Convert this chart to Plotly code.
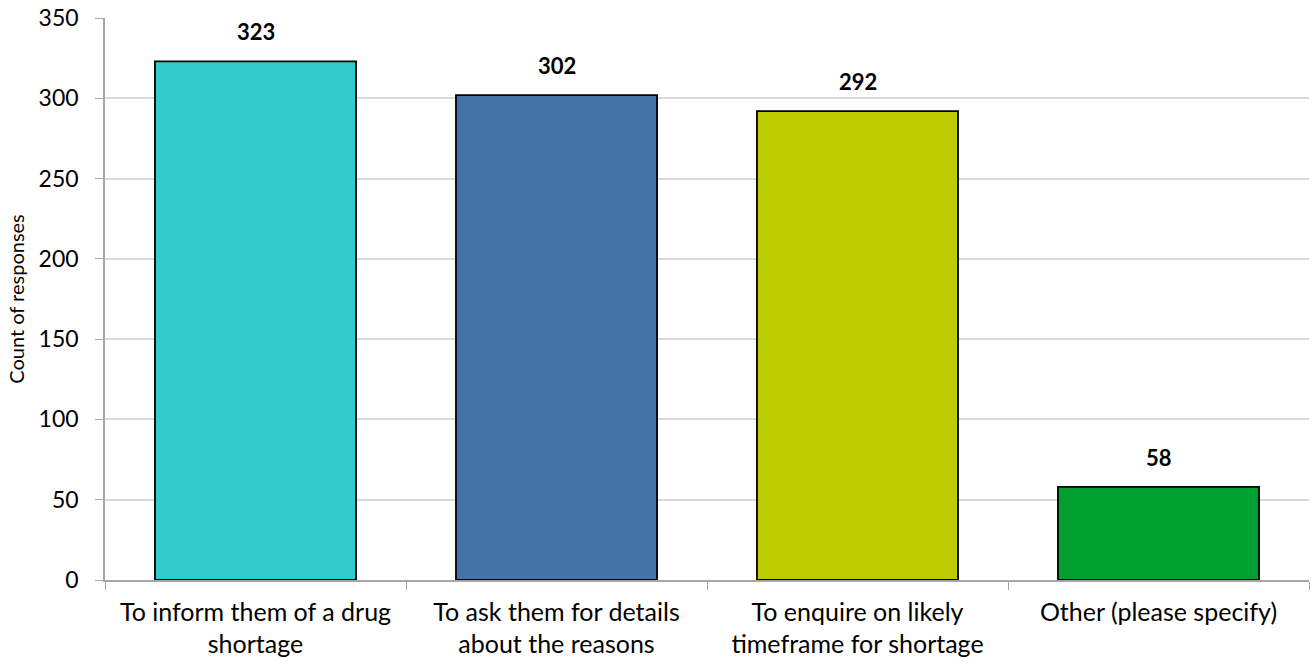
import plotly.graph_objects as go

categories = ["To inform them of a drug<br>shortage",
              "To ask them for details<br>about the reasons",
              "To enquire on likely<br>timeframe for shortage",
              "Other (please specify)"]
values = [323, 302, 292, 58]
colors = ["#33CCCC", "#4673A7", "#BDCC00", "#00A030"]

FONT = "Lato, Noto Sans, sans-serif"

fig = go.Figure()
fig.add_trace(go.Bar(
    x=categories, y=values,
    marker=dict(color=colors, line=dict(color="#000000", width=1.8)),
    width=0.668,
    hoverinfo="x+y",
))

for c, v in zip(categories, values):
    fig.add_annotation(x=c, y=v, text="<b>%d</b>" % v, showarrow=False,
                       yanchor="bottom", yshift=14,
                       font=dict(family=FONT, size=22, color="#000000"))

fig.update_layout(
    width=1314, height=664,
    margin=dict(l=105, r=5, t=18, b=84, autoexpand=False),
    plot_bgcolor="white", paper_bgcolor="white",
    showlegend=False,
    font=dict(family=FONT, size=22, color="#000000"),
)
fig.update_xaxes(
    showline=True, linecolor="#A6A6A6", linewidth=1.5,
    ticks="outside", tickson="boundaries", ticklen=8, tickcolor="#A6A6A6",
    tickfont=dict(size=25), ticklabelstandoff=9,
    showgrid=False, automargin=False,
)
fig.update_yaxes(
    range=[0, 350], dtick=50,
    showline=True, linecolor="#A6A6A6", linewidth=1.5,
    ticks="outside", ticklen=8, tickcolor="#A6A6A6",
    gridcolor="#D9D9D9", gridwidth=1.5,
    tickfont=dict(size=23), ticklabelstandoff=12, ticklabeloverflow="allow",
    title=dict(text="Count of responses", font=dict(size=20), standoff=9),
    zeroline=False, automargin=False,
)

fig.write_html("out.html",
               config={"displayModeBar": False},
               post_script="document.body.style.margin='0';document.body.style.overflow='hidden';")
